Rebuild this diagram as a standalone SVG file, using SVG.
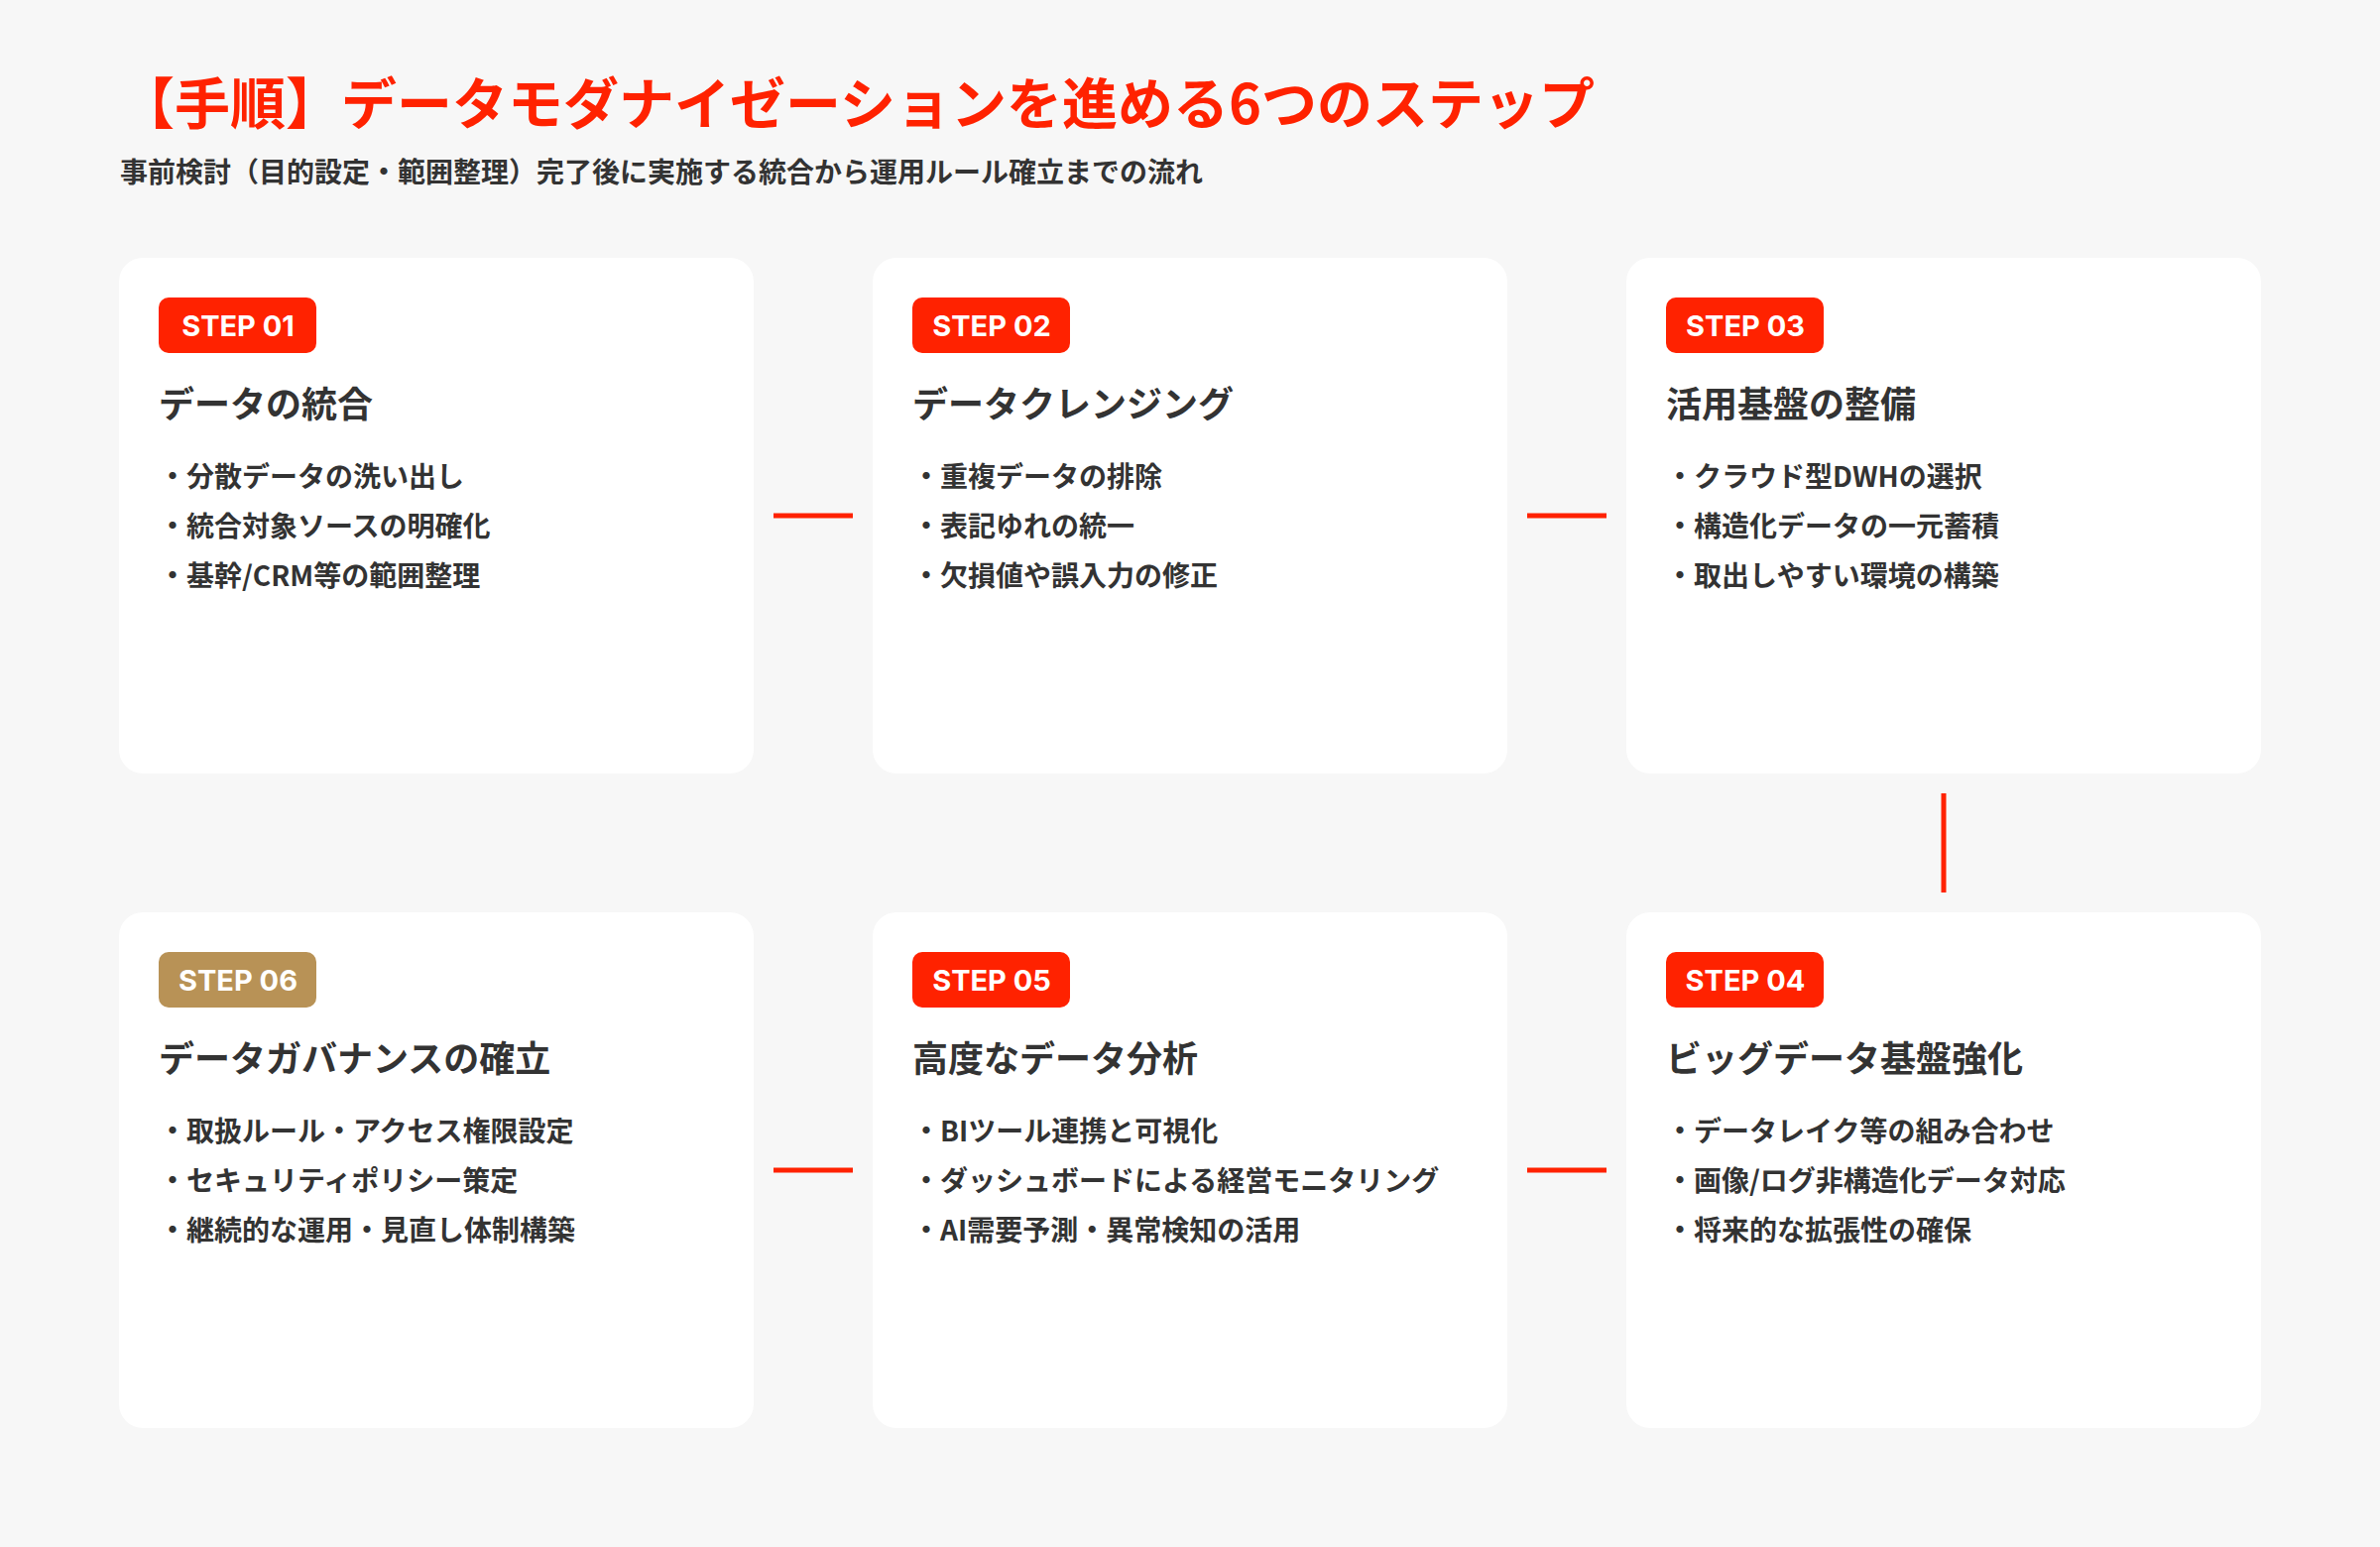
<svg xmlns="http://www.w3.org/2000/svg" width="2400" height="1560" viewBox="0 0 2400 1560">
<style>
.bg{fill:#F7F7F7}
.card{fill:#FFFFFF}
.badge{fill:#FF2200}
.badge.gold{fill:#B89256}
.btxt{font-family:Inter,"Noto Sans","Noto Sans CJK JP",sans-serif;font-weight:700;font-size:29px;fill:#FFFFFF;text-anchor:middle}
.ttl{font-family:"Noto Sans CJK JP","Noto Sans",sans-serif;font-weight:700;font-size:36px;fill:#333333}
.item{font-family:"Noto Sans CJK JP","Noto Sans",sans-serif;font-weight:700;font-size:28px;fill:#333333}
.conn{stroke:#FF2200;stroke-width:5;fill:none}
</style>
<rect class="bg" x="0" y="0" width="2400" height="1560"/>
<g id="header">
<text x="120" y="125" font-family="'Noto Sans CJK JP','Noto Sans',sans-serif" font-weight="700" font-size="56" fill="#FF2200">【手順】データモダナイゼーションを進める6つのステップ</text>
<text x="121" y="184" font-family="'Noto Sans CJK JP','Noto Sans',sans-serif" font-weight="700" font-size="28" fill="#333333">事前検討（目的設定・範囲整理）完了後に実施する統合から運用ルール確立までの流れ</text>
</g>
<g id="connectors">
<line class="conn" x1="780" y1="520" x2="860" y2="520"/>
<line class="conn" x1="1540" y1="520" x2="1620" y2="520"/>
<line class="conn" x1="1960" y1="800" x2="1960" y2="900"/>
<line class="conn" x1="1540" y1="1180" x2="1620" y2="1180"/>
<line class="conn" x1="780" y1="1180" x2="860" y2="1180"/>
</g>
<g id="step01">
<rect class="card" x="120" y="260" width="640" height="520" rx="24"/>
<rect class="badge" x="160" y="300" width="159" height="56" rx="10"/>
<text class="btxt" x="240" y="339">STEP 01</text>
<text class="ttl" x="160" y="421">データの統合</text>
<text class="item" x="160" y="491">・分散データの洗い出し</text>
<text class="item" x="160" y="541">・統合対象ソースの明確化</text>
<text class="item" x="160" y="591">・基幹/CRM等の範囲整理</text>
</g>
<g id="step02">
<rect class="card" x="880" y="260" width="640" height="520" rx="24"/>
<rect class="badge" x="920" y="300" width="159" height="56" rx="10"/>
<text class="btxt" x="1000" y="339">STEP 02</text>
<text class="ttl" x="920" y="421">データクレンジング</text>
<text class="item" x="920" y="491">・重複データの排除</text>
<text class="item" x="920" y="541">・表記ゆれの統一</text>
<text class="item" x="920" y="591">・欠損値や誤入力の修正</text>
</g>
<g id="step03">
<rect class="card" x="1640" y="260" width="640" height="520" rx="24"/>
<rect class="badge" x="1680" y="300" width="159" height="56" rx="10"/>
<text class="btxt" x="1760" y="339">STEP 03</text>
<text class="ttl" x="1680" y="421">活用基盤の整備</text>
<text class="item" x="1680" y="491">・クラウド型DWHの選択</text>
<text class="item" x="1680" y="541">・構造化データの一元蓄積</text>
<text class="item" x="1680" y="591">・取出しやすい環境の構築</text>
</g>
<g id="step04">
<rect class="card" x="1640" y="920" width="640" height="520" rx="24"/>
<rect class="badge" x="1680" y="960" width="159" height="56" rx="10"/>
<text class="btxt" x="1760" y="999">STEP 04</text>
<text class="ttl" x="1680" y="1081">ビッグデータ基盤強化</text>
<text class="item" x="1680" y="1151">・データレイク等の組み合わせ</text>
<text class="item" x="1680" y="1201">・画像/ログ非構造化データ対応</text>
<text class="item" x="1680" y="1251">・将来的な拡張性の確保</text>
</g>
<g id="step05">
<rect class="card" x="880" y="920" width="640" height="520" rx="24"/>
<rect class="badge" x="920" y="960" width="159" height="56" rx="10"/>
<text class="btxt" x="1000" y="999">STEP 05</text>
<text class="ttl" x="920" y="1081">高度なデータ分析</text>
<text class="item" x="920" y="1151">・BIツール連携と可視化</text>
<text class="item" x="920" y="1201">・ダッシュボードによる経営モニタリング</text>
<text class="item" x="920" y="1251">・AI需要予測・異常検知の活用</text>
</g>
<g id="step06">
<rect class="card" x="120" y="920" width="640" height="520" rx="24"/>
<rect class="badge gold" x="160" y="960" width="159" height="56" rx="10"/>
<text class="btxt" x="240" y="999">STEP 06</text>
<text class="ttl" x="160" y="1081">データガバナンスの確立</text>
<text class="item" x="160" y="1151">・取扱ルール・アクセス権限設定</text>
<text class="item" x="160" y="1201">・セキュリティポリシー策定</text>
<text class="item" x="160" y="1251">・継続的な運用・見直し体制構築</text>
</g>
</svg>
